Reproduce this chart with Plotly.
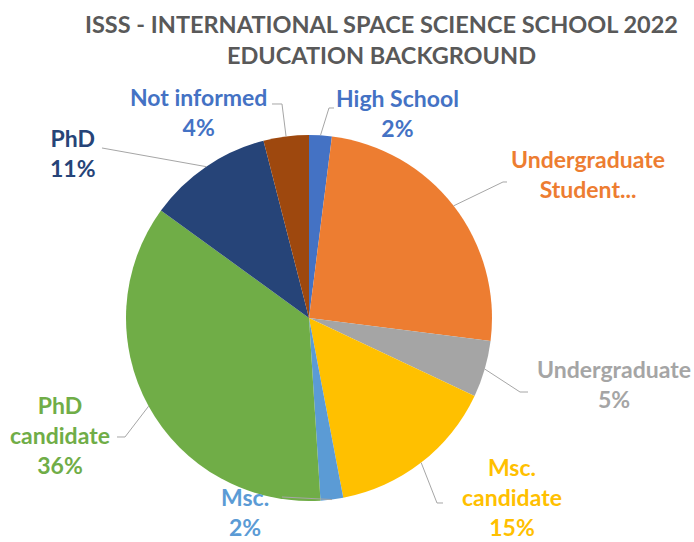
import math
import plotly.graph_objects as go

# ---- data ----
categories = ["High School", "Undergraduate Student...", "Undergraduate", "Msc. candidate",
              "Msc.", "PhD candidate", "PhD", "Not informed"]
label_lines = [["High School"], ["Undergraduate", "Student..."], ["Undergraduate"], ["Msc.", "candidate"],
               ["Msc."], ["PhD", "candidate"], ["PhD"], ["Not informed"]]
show_pct = [True, False, True, True, True, True, True, True]
values = [2, 25, 5, 15, 2, 36, 11, 4]
title_text = "ISSS - INTERNATIONAL SPACE SCIENCE SCHOOL 2022<br>EDUCATION BACKGROUND"

# ---- style ----
slice_colors = ["#4472C4", "#ED7D31", "#A5A5A5", "#FFC000", "#5B9BD5", "#70AD47", "#264478", "#9E480E"]
label_colors = ["#4472C4", "#ED7D31", "#A5A5A5", "#FFC000", "#5B9BD5", "#70AD47", "#264478", "#4472C4"]
W, H = 694, 542
CX, CY, R = 309, 318, 183
# label text centres (px) and leader elbow/end points (px)
label_pos = [(397, 113), (588, 174), (614, 384), (512, 497), (245, 512), (60, 435), (73, 153), (198, 112)]
leader_pts = [[(329, 108), (334, 108)], [(503, 182), (507, 182)], [(520, 392), (528, 392)],
              [(437, 503), (443, 503)], [(282, 497), (282, 497)], [(125, 437), (117, 437)],
              [(102, 148), (102, 148)], [(282, 104), (272, 104)]]
FONT = "Lato"
FS = 23

def px(x, y):
    return x / W, 1 - y / H

fig = go.Figure(go.Pie(
    labels=categories, values=values, sort=False, direction="clockwise", rotation=0,
    marker=dict(colors=slice_colors, line=dict(width=0)),
    textinfo="none", hoverinfo="label+percent", showlegend=False,
    domain=dict(x=[(CX - R) / W, (CX + R) / W], y=[1 - (CY + R) / H, 1 - (CY - R) / H]),
))

total = sum(values)
cum = 0
shapes = []
annotations = []
for i, v in enumerate(values):
    mid = (cum + v / 2) / total * 2 * math.pi
    cum += v
    ex, ey = CX + R * math.sin(mid), CY - R * math.cos(mid)
    pts = [(ex, ey)] + leader_pts[i]
    path = "M " + " L ".join(f"{px(a, b)[0]:.5f},{px(a, b)[1]:.5f}" for a, b in pts)
    shapes.append(dict(type="path", xref="paper", yref="paper", path=path,
                       line=dict(color="#A6A6A6", width=1)))
    pct = round(v / total * 100)
    lines = label_lines[i] + ([f"{pct}%"] if show_pct[i] else [])
    txt = "<br>".join(lines)
    lx, ly = px(*label_pos[i])
    annotations.append(dict(x=lx, y=ly, xref="paper", yref="paper", text=f"<b>{txt}</b>",
                            showarrow=False, xanchor="center", yanchor="middle", align="center",
                            font=dict(family=FONT, size=FS, color=label_colors[i])))

annotations.append(dict(x=381 / W, y=1 - 39 / H, xref="paper", yref="paper",
                        text=f"<b>{title_text}</b>", showarrow=False, xanchor="center", yanchor="middle",
                        align="center", font=dict(family=FONT, size=23.5, color="#595959")))

fig.update_layout(width=W, height=H, margin=dict(l=0, r=0, t=0, b=0),
                  paper_bgcolor="white", plot_bgcolor="white",
                  shapes=shapes, annotations=annotations)
fig.write_html("out.html", config={"displayModeBar": False},
               post_script="document.body.style.margin='0';")
